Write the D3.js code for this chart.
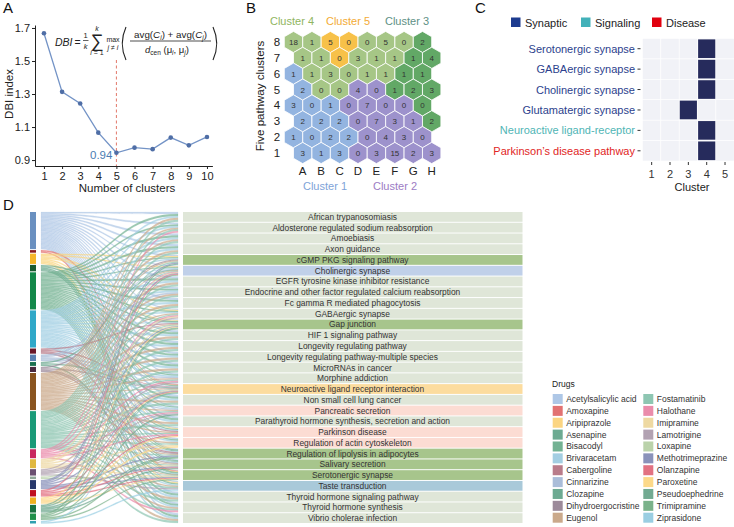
<!DOCTYPE html>
<html>
<head>
<meta charset="utf-8">
<script src="https://cdn.jsdelivr.net/npm/d3@7"></script>
<style>
body{margin:0;background:#fff;}
svg{font-family:"Liberation Sans",Arial,sans-serif;}
</style>
</head>
<body>
<svg id="fig" width="734" height="527"></svg>
<script>
// ---- panel A data
var clusterK = [1,2,3,4,5,6,7,8,9,10];
var dbiValues = [1.668,1.313,1.243,1.066,0.944,0.975,0.966,1.036,0.989,1.040];
var dbiTicks = [0.9,1.1,1.3,1.5,1.7];

// ---- panel B data (SOM grid, rows 8 -> 1)
var somCols = ["A","B","C","D","E","F","G","H"];
var somRows = [8,7,6,5,4,3,2,1];
var somCounts = [
	[18,1,5,0,0,5,0,2],
	[1,1,0,3,1,1,1,4],
	[1,1,3,0,1,1,1,1],
	[2,0,0,4,0,1,2,3],
	[3,0,1,0,7,0,0,0],
	[2,2,2,0,7,3,1,2],
	[1,0,2,2,0,4,3,0],
	[3,1,3,0,3,15,2,3]
];
var somCluster = [
	[4,4,5,5,4,4,4,3],
	[4,4,5,4,4,4,3,3],
	[1,4,4,4,4,4,3,3],
	[1,4,4,2,2,3,3,3],
	[1,1,1,2,2,2,2,3],
	[1,1,1,2,2,2,2,3],
	[1,1,1,1,2,2,2,2],
	[1,1,1,2,2,2,2,2]
];
var clusterFill = {1:"#93b4e0",2:"#9d92cc",3:"#62a866",4:"#a6c686",5:"#f7c149"};

// ---- panel C data
var cPathways = ["Serotonergic synapse","GABAergic synapse","Cholinergic synapse","Glutamatergic synapse","Neuroactive ligand-receptor","Parkinson\u2019s disease pathway"];
var cTypes = ["Synaptic","Synaptic","Synaptic","Synaptic","Signaling","Disease"];
var cCluster = [4,4,4,3,4,4];
var cClusterTicks = [1,2,3,4,5];
var cTypeNames = ["Synaptic","Signaling","Disease"];

// ---- panel D data
var drugNames = ["Acetylsalicylic acid","Amoxapine","Aripiprazole","Asenapine","Bisacodyl","Brivaracetam","Cabergoline","Cinnarizine","Clozapine","Dihydroergocristine","Eugenol",
	"Fostamatinib","Halothane","Imipramine","Lamotrigine","Loxapine","Methotrimeprazine","Olanzapine","Paroxetine","Pseudoephedrine","Trimipramine","Ziprasidone"];
var drugColors = ["#aec7e6","#e27272","#fbd582","#6dab92","#73b293","#a3cee2","#b97c8a","#aabdd9","#6daa92","#9c8a9a","#caa98b",
	"#8ec6b2","#ea8cab","#eed9a2","#b2a2b2","#bad2aa","#8a92ba","#e27282","#fcd98a","#72aa92","#7ab28a","#9acee2"];
var drugBarColors = ["#6a90c0","#8a1a20","#f6b62a","#1a5a30","#14884a","#30a8c8","#6a1828","#5a80b0","#1a7050","#4a2a40","#8a5520",
	"#1a9a78","#c82860","#e0b840","#6a5070","#90a898","#28386a","#c01020","#f0b020","#1a7040","#20904a","#30a0b0"];
var pathwayNames = ["African trypanosomiasis","Aldosterone regulated sodium reabsorption","Amoebiasis","Axon guidance","cGMP PKG signaling pathway",
	"Cholinergic synapse","EGFR tyrosine kinase inhibitor resistance","Endocrine and other factor regulated calcium reabsorption","Fc gamma R mediated phagocytosis",
	"GABAergic synapse","Gap junction","HIF 1 signaling pathway","Longevity regulating pathway","Longevity regulating pathway-multiple species","MicroRNAs in cancer",
	"Morphine addiction","Neuroactive ligand receptor interaction","Non small cell lung cancer","Pancreatic secretion","Parathyroid hormone synthesis, secretion and action",
	"Parkinson disease","Regulation of actin cytoskeleton","Regulation of lipolysis in adipocytes","Salivary secretion","Serotonergic synapse","Taste transduction",
	"Thyroid hormone signaling pathway","Thyroid hormone synthesis","Vibrio cholerae infection"];
var pathwayGroups = ["o","o","o","o","g","b","o","o","o","o","g","o","o","o","o","o","y","o","p","o","p","p","g","g","g","t","o","o","o"];
var groupFill = {o:"#dfe6d8",g:"#a7c58c",b:"#c0d0e9",y:"#fcdc9e",p:"#fcdcd3",t:"#a9c9d9"};
var allPathways = [0,1,2,3,4,5,6,7,8,9,10,11,12,13,14,15,16,17,18,19,20,21,22,23,24,25,26,27,28];
var drugTargets = [
	allPathways,
	[16,24],
	[4,5,9,10,16,20,24,25],
	[10,16,22,23,24],
	allPathways,
	allPathways,
	[10,16,20,22],
	[5,7,15,16,18],
	[5,16,24],
	[4,16,22,23],
	allPathways,
	allPathways,
	[1,5,9,15,18,20,27],
	[5,9,10,16,21,23,24],
	[9,15,16,18,25],
	[16,24],
	[4,5,10,16,22,23,24],
	[5,16,20,23,24],
	[10,16,20,21,24],
	[4,10,16,18,22,23],
	[5,10,16,22,24],
	[16,25]
];

var svg = d3.select("#fig");
var ink = "#222";

function panelLetter(txt,x,y){
	svg.append("text").attr("x",x).attr("y",y).style("font-size","15px").style("fill","#111").text(txt);
}

// =================== A ===================
var gA = svg.append("g");
panelLetter("A",3,13);
var xA = d3.scaleLinear().domain([0.5,10.3]).range([34.9,212.4]);
var yA = d3.scaleLinear().domain([0.864,1.718]).range([166,25]);

var axB = gA.append("g").attr("transform","translate(0,166)")
	.call(d3.axisBottom(xA).tickValues(clusterK).tickSize(3).tickPadding(3).tickSizeOuter(0));
var axL = gA.append("g").attr("transform","translate(35,0)")
	.call(d3.axisLeft(yA).tickValues(dbiTicks).tickFormat(d3.format(".1f")).tickSize(3).tickPadding(2).tickSizeOuter(0));
[axB,axL].forEach(function(a){
	a.selectAll("path,line").style("stroke",ink);
	a.selectAll("text").style("font-size","11px").style("fill",ink).style("font-family","Liberation Sans");
});

gA.append("text").attr("x",127).attr("y",192).attr("text-anchor","middle").style("font-size","11.5px").style("fill",ink).text("Number of clusters");
gA.append("text").attr("transform","translate(13,94) rotate(-90)").attr("text-anchor","middle").style("font-size","11.5px").style("fill",ink).text("DBI index");

// dashed line at the optimum
gA.append("line")
	.attr("x1",xA(5)).attr("x2",xA(5))
	.attr("y1",60).attr("y2",166)
	.style("stroke","#e2786a").style("stroke-width",1).style("stroke-dasharray","3,2.5");

var lineA = d3.line().x(function(d,i){return xA(clusterK[i]);}).y(function(d){return yA(d);});
gA.append("path").datum(dbiValues).attr("d",lineA)
	.style("fill","none").style("stroke","#7393c6").style("stroke-width",1.3);
gA.selectAll("circle.pt").data(dbiValues).enter().append("circle")
	.attr("class","pt")
	.attr("cx",function(d,i){return xA(clusterK[i]);})
	.attr("cy",function(d){return yA(d);})
	.attr("r",2.3)
	.style("fill","#4f6ea6");

gA.append("text").attr("x",xA(5)-4).attr("y",yA(dbiValues[4])+6).attr("text-anchor","end")
	.style("font-size","11.5px").style("fill","#4a7db3").text(d3.format(".2f")(dbiValues[4]));

// formula
var fm = gA.append("g").style("fill",ink);
fm.append("text").attr("x",55).attr("y",45.5).style("font-size","10.5px").style("font-style","italic").text("DBI");
fm.append("text").attr("x",74.5).attr("y",45.5).style("font-size","10.5px").text("=");
fm.append("text").attr("x",85.5).attr("y",38).attr("text-anchor","middle").style("font-size","7.5px").text("1");
fm.append("line").attr("x1",83).attr("x2",88.5).attr("y1",40.5).attr("y2",40.5).style("stroke",ink).style("stroke-width",0.7);
fm.append("text").attr("x",85.5).attr("y",48.5).attr("text-anchor","middle").style("font-size","7.5px").style("font-style","italic").text("k");
fm.append("text").attr("x",97).attr("y",46.5).attr("text-anchor","middle").style("font-size","18px").text("\u2211");
fm.append("text").attr("x",97).attr("y",31).attr("text-anchor","middle").style("font-size","7px").style("font-style","italic").text("k");
fm.append("text").attr("x",97).attr("y",55).attr("text-anchor","middle").style("font-size","7px").html("<tspan font-style='italic'>i</tspan> = 1");
fm.append("text").attr("x",113).attr("y",41.5).attr("text-anchor","middle").style("font-size","7px").text("max");
fm.append("text").attr("x",113).attr("y",49.5).attr("text-anchor","middle").style("font-size","7px").style("font-style","italic").text("j \u2260 i");
fm.append("path").attr("d","M126,27 Q118.5,43.5 126,60").style("fill","none").style("stroke",ink).style("stroke-width",1.1);
fm.append("path").attr("d","M213,27 Q220.5,43.5 213,60").style("fill","none").style("stroke",ink).style("stroke-width",1.1);
fm.append("text").attr("x",170.5).attr("y",37.5).attr("text-anchor","middle").style("font-size","9.8px")
	.html("avg(<tspan font-style='italic'>C</tspan><tspan font-size='6.5px' dy='2' font-style='italic'>i</tspan><tspan dy='-2'>) + avg(</tspan><tspan font-style='italic'>C</tspan><tspan font-size='6.5px' dy='2' font-style='italic'>j</tspan><tspan dy='-2'>)</tspan>");
fm.append("line").attr("x1",130).attr("x2",211).attr("y1",41).attr("y2",41).style("stroke",ink).style("stroke-width",0.8);
fm.append("text").attr("x",167).attr("y",52.5).attr("text-anchor","middle").style("font-size","9.5px")
	.html("<tspan font-style='italic'>d</tspan><tspan font-size='6.5px' dy='2'>cen</tspan><tspan dy='-2'> (\u03bc</tspan><tspan font-size='6.5px' dy='2' font-style='italic'>i</tspan><tspan dy='-2'>, \u03bc</tspan><tspan font-size='6.5px' dy='2' font-style='italic'>j</tspan><tspan dy='-2'>)</tspan>");

// =================== B ===================
var gB = svg.append("g");
panelLetter("B",246,13);
var xB = d3.scalePoint().domain(somCols).range([302.7,431.7]);
var yB = d3.scalePoint().domain(somRows).range([42,153]);
var hexR = 10.6;
var hexPts = d3.range(6).map(function(k){
	var a = Math.PI/3*k + Math.PI/6;
	return [hexR*Math.cos(a), hexR*Math.sin(a)];
});
var hexPath = "M" + hexPts.map(function(p){return p[0].toFixed(2)+","+p[1].toFixed(2);}).join("L") + "Z";

var cells = [];
somRows.forEach(function(r,ri){
	somCols.forEach(function(c,ci){
		cells.push({row:r,col:c,n:somCounts[ri][ci],cl:somCluster[ri][ci],shift:(r%2===0)?-9.2:0});
	});
});
var hex = gB.selectAll("g.hex").data(cells).enter().append("g")
	.attr("class","hex")
	.attr("transform",function(d){return "translate("+(xB(d.col)+d.shift)+","+yB(d.row)+")";});
hex.append("path").attr("d",hexPath)
	.style("fill",function(d){return clusterFill[d.cl];})
	.style("stroke","#fff").style("stroke-width",0.8);
hex.append("text").attr("text-anchor","middle").attr("y",3)
	.style("font-size","8px").style("fill","#333")
	.text(function(d){return d.n;});

gB.selectAll("text.rowlab").data(somRows).enter().append("text")
	.attr("class","rowlab").attr("x",277).attr("y",function(d){return yB(d)+4;})
	.attr("text-anchor","middle").style("font-size","11.5px").style("fill",ink)
	.text(function(d){return d;});
gB.selectAll("text.collab").data(somCols).enter().append("text")
	.attr("class","collab").attr("x",function(d){return xB(d);}).attr("y",174.5)
	.attr("text-anchor","middle").style("font-size","11.5px").style("fill",ink)
	.text(function(d){return d;});
gB.append("text").attr("transform","translate(264,96) rotate(-90)").attr("text-anchor","middle")
	.style("font-size","11.5px").style("fill",ink).text("Five pathway clusters");

var clusterLabels = [
	{t:"Cluster 4",x:292,y:25,c:"#8fb560"},
	{t:"Cluster 5",x:348,y:25,c:"#f3ab35"},
	{t:"Cluster 3",x:407,y:25,c:"#5e9185"},
	{t:"Cluster 1",x:325,y:190,c:"#7ea3d8"},
	{t:"Cluster 2",x:395,y:190,c:"#9c7cc4"}
];
gB.selectAll("text.cl").data(clusterLabels).enter().append("text")
	.attr("class","cl").attr("x",function(d){return d.x;}).attr("y",function(d){return d.y;})
	.attr("text-anchor","middle").style("font-size","11px")
	.style("fill",function(d){return d.c;}).text(function(d){return d.t;});

// =================== C ===================
var gC = svg.append("g");
panelLetter("C",475,13);
var typeFill = {Synaptic:"#1d3b8f",Signaling:"#42b1b9",Disease:"#e1000f"};
var typeText = {Synaptic:"#2c3f8d",Signaling:"#4fb5b5",Disease:"#e12525"};
var xC = d3.scaleBand().domain(cClusterTicks).range([642.5,734.2]);
var yC = d3.scaleBand().domain(cPathways).range([38.5,161]);

var bgCells = [];
cPathways.forEach(function(p){ cClusterTicks.forEach(function(k){ bgCells.push({p:p,k:k}); }); });
gC.selectAll("rect.bg").data(bgCells).enter().append("rect")
	.attr("class","bg")
	.attr("x",function(d){return xC(d.k);}).attr("y",function(d){return yC(d.p);})
	.attr("width",xC.bandwidth()).attr("height",yC.bandwidth())
	.style("fill","#f1f2f7").style("stroke","#fff").style("stroke-width",0.6);
gC.selectAll("rect.hit").data(cPathways).enter().append("rect")
	.attr("class","hit")
	.attr("x",function(d,i){return xC(cCluster[i])+0.6;})
	.attr("y",function(d){return yC(d)+0.9;})
	.attr("width",xC.bandwidth()-1.2).attr("height",yC.bandwidth()-1.8)
	.style("fill","#262b5c");
gC.selectAll("text.rl").data(cPathways).enter().append("text")
	.attr("class","rl").attr("x",635).attr("y",function(d){return yC(d)+yC.bandwidth()/2+4;})
	.attr("text-anchor","end").style("font-size","11px")
	.style("fill",function(d,i){return typeText[cTypes[i]];})
	.text(function(d){return d;});
gC.selectAll("line.rt").data(cPathways).enter().append("line")
	.attr("class","rt").attr("x1",637.5).attr("x2",640.5)
	.attr("y1",function(d){return yC(d)+yC.bandwidth()/2;}).attr("y2",function(d){return yC(d)+yC.bandwidth()/2;})
	.style("stroke","#333");
gC.selectAll("line.ct").data(cClusterTicks).enter().append("line")
	.attr("class","ct")
	.attr("x1",function(d){return xC(d)+xC.bandwidth()/2;}).attr("x2",function(d){return xC(d)+xC.bandwidth()/2;})
	.attr("y1",162).attr("y2",165).style("stroke","#333");
gC.selectAll("text.ctl").data(cClusterTicks).enter().append("text")
	.attr("class","ctl")
	.attr("x",function(d){return xC(d)+xC.bandwidth()/2;}).attr("y",177.5)
	.attr("text-anchor","middle").style("font-size","11px").style("fill","#333")
	.text(function(d){return d;});
gC.append("text").attr("x",692).attr("y",191).attr("text-anchor","middle")
	.style("font-size","11px").style("fill",ink).text("Cluster");

var legC = [{t:"Synaptic",x:511},{t:"Signaling",x:581},{t:"Disease",x:652}];
legC.forEach(function(l){
	gC.append("rect").attr("x",l.x).attr("y",17.5).attr("width",9.5).attr("height",9.5).style("fill",typeFill[l.t]);
	gC.append("text").attr("x",l.x+14).attr("y",26.5).style("font-size","11px").style("fill",ink).text(l.t);
});

// =================== D ===================
var gD = svg.append("g");
panelLetter("D",3,210);

var barTop = 212, barBot = 523.5, barGap = 1;
var drugLinkCount = drugTargets.map(function(t){return t.length;});
var totalLinks = d3.sum(drugLinkCount);
var unitY = d3.scaleLinear().domain([0,totalLinks]).range([0, barBot-barTop-barGap*(drugNames.length-1)]);

var drugNodes = [];
var cursor = barTop;
drugNames.forEach(function(nm,i){
	var h = unitY(drugLinkCount[i]);
	drugNodes.push({name:nm,y0:cursor,y1:cursor+h,i:i});
	cursor += h + barGap;
});

var yRow = d3.scaleBand().domain(pathwayNames).range([212,523]).paddingInner(0.09);

var links = [];
drugTargets.forEach(function(t,di){
	var sorted = t.slice().sort(d3.ascending);
	sorted.forEach(function(pi,k){
		var a0 = drugNodes[di].y0 + unitY(k);
		links.push({drug:di,path:pi,a0:a0,a1:a0+unitY(1)});
	});
});
// right side: share each row between its incoming links
pathwayNames.forEach(function(p,pi){
	var inc = links.filter(function(l){return l.path===pi;}).sort(function(a,b){return a.drug-b.drug;});
	var bw = yRow.bandwidth()/inc.length;
	inc.forEach(function(l,k){
		l.b0 = yRow(p)+bw*k;
		l.b1 = l.b0+bw;
	});
});

var lx0 = 41, lx1 = 178, lxm = (lx0+lx1)/2;
function ribbon(l){
	return "M"+lx0+","+l.a0+
		"C"+lxm+","+l.a0+" "+lxm+","+l.b0+" "+lx1+","+l.b0+
		"L"+lx1+","+l.b1+
		"C"+lxm+","+l.b1+" "+lxm+","+l.a1+" "+lx0+","+l.a1+"Z";
}
gD.selectAll("path.lk").data(links).enter().append("path")
	.attr("class","lk").attr("d",ribbon)
	.style("fill",function(d){return drugColors[d.drug];})
	.style("fill-opacity",0.7)
	.style("stroke",function(d){return drugColors[d.drug];})
	.style("stroke-opacity",0.45).style("stroke-width",0.35);

gD.selectAll("rect.drug").data(drugNodes).enter().append("rect")
	.attr("class","drug").attr("x",30).attr("width",6)
	.attr("y",function(d){return d.y0;}).attr("height",function(d){return d.y1-d.y0;})
	.style("fill",function(d){return drugBarColors[d.i];});

gD.selectAll("rect.pw").data(pathwayNames).enter().append("rect")
	.attr("class","pw").attr("x",183).attr("width",339.5)
	.attr("y",function(d){return yRow(d);}).attr("height",yRow.bandwidth())
	.style("fill",function(d,i){return groupFill[pathwayGroups[i]];});
gD.selectAll("text.pw").data(pathwayNames).enter().append("text")
	.attr("class","pw").attr("x",352.5).attr("y",function(d){return yRow(d)+yRow.bandwidth()/2+3;})
	.attr("text-anchor","middle").style("font-size","8.4px").style("fill","#333")
	.text(function(d){return d;});

// legend
var legD = gD.append("g");
legD.append("text").attr("x",552).attr("y",387).style("font-size","8.5px").style("fill",ink).text("Drugs");
var legRow = d3.scaleLinear().domain([0,10]).range([399,517.7]);
var legItems = legD.selectAll("g.li").data(drugNames).enter().append("g")
	.attr("class","li")
	.attr("transform",function(d,i){
		var col = i<11?0:1;
		return "translate("+(col?643.3:552.7)+","+legRow(i%11)+")";
	});
legItems.append("rect").attr("x",0).attr("y",-5).attr("width",10).attr("height",10)
	.style("fill",function(d,i){return drugColors[i];});
legItems.append("text").attr("x",13.5).attr("y",3).style("font-size","8.5px").style("fill","#333")
	.text(function(d){return d;});
</script>
</body>
</html>
